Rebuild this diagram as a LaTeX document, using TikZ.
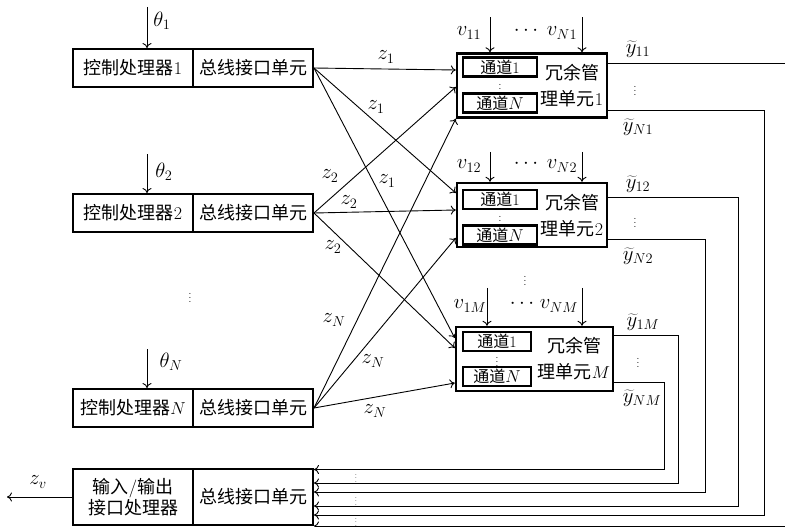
\documentclass[tikz,border=0pt]{standalone}
\usepackage{fontspec}
\newfontfamily\cjk{Noto Sans CJK SC}
\usetikzlibrary{arrows.meta,calc}
\newcommand\myfs{\fontsize{18}{22}\selectfont}
\newcommand\chfs{\fontsize{16}{19}\selectfont}
\newcommand\unitfs{\fontsize{18}{26}\selectfont}
\newcommand\labfs{\fontsize{20}{24}\selectfont}
\begin{document}
\begin{tikzpicture}[x=1pt,y=-1pt,
  part/.style={draw,line width=2pt,minimum width=120pt,minimum height=38pt,inner sep=0pt,font=\myfs},
  unit/.style={draw,line width=2.4pt,minimum width=150pt,minimum height=64pt,inner sep=0pt},
  chan/.style={draw,line width=2.4pt,minimum width=74pt,minimum height=19pt,inner sep=0pt,font=\chfs},
  conn/.style={line width=0.9pt,-{To[length=5pt,width=9pt]}},
  lab/.style={font=\labfs,inner sep=0pt},
  dots/.style={inner sep=0pt,font=\normalsize},
  ]
\useasboundingbox (0,0) rectangle (785,527);

% controllers
\node[part] (c1L) at (133,68) {{\cjk 控制处理器}1};
\node[part] (c1R) at (253,68) {\cjk 总线接口单元};
\node[part] (c2L) at (133,213) {{\cjk 控制处理器}2};
\node[part] (c2R) at (253,213) {\cjk 总线接口单元};
\node[part] (cNL) at (133,408) {{\cjk 控制处理器}$N$};
\node[part] (cNR) at (253,408) {\cjk 总线接口单元};
\node[dots] (cdots) at (190,295) {$\vdots$};

% theta inputs
\draw[conn] ([xshift=14pt,yshift=41pt]c1L.north) -- ([xshift=14pt]c1L.north);
\draw[conn] ([xshift=14pt,yshift=39pt]c2L.north) -- ([xshift=14pt]c2L.north);
\draw[conn] ([xshift=14pt,yshift=39pt]cNL.north) -- ([xshift=14pt]cNL.north);
\node[lab] (th1) at (162,21) {$\theta_1$};
\node[lab] (th2) at (164,172) {$\theta_2$};
\node[lab] (thN) at (171,362) {$\theta_N$};

% I/O unit
\node[part,minimum height=56pt,align=center] (ioL) at (133,497) {{\cjk 输入}/{\cjk 输出}\\[-1pt]{\cjk 接口处理器}};
\node[part,minimum height=56pt] (ioR) at (253,497) {\cjk 总线接口单元};
\coordinate (zv) at (7,497);
\draw[conn] (ioL.west) -- (zv);
\node[lab] (zvl) at (38,482) {$z_v$};

% redundancy management units
\node[unit] (u1) at (532,85.5) {};
\node[unit] (u2) at (532,215) {};
\node[unit,minimum width=157pt] (uM) at (534.5,359) {};

\node[chan] (u1c1) at (500,67) {{\cjk 通道}1};
\node[chan] (u1cN) at (500,103) {{\cjk 通道}$N$};
\node[chan] (u2c1) at (500,199.5) {{\cjk 通道}1};
\node[chan] (u2cN) at (500,235) {{\cjk 通道}$N$};
\node[chan,minimum width=68pt] (uMc1) at (497,341.5) {{\cjk 通道}1};
\node[chan,minimum width=68pt] (uMcN) at (497,376.5) {{\cjk 通道}$N$};
\node[dots] (u1d) at (500,86) {$\vdots$};
\node[dots] (u2d) at (500,218) {$\vdots$};
\node[dots] (uMd) at (497,359) {$\vdots$};

\node[align=center,font=\unitfs,inner sep=0pt] (u1t) at (572,86) {{\cjk 冗余管}\\{\cjk 理单元}1};
\node[align=center,font=\unitfs,inner sep=0pt] (u2t) at (572,216) {{\cjk 冗余管}\\{\cjk 理单元}2};
\node[align=center,font=\unitfs,inner sep=0pt] (uMt) at (574,359) {{\cjk 冗余管}\\{\cjk 理单元}$M$};

% v inputs
\draw[conn] ([xshift=-42pt,yshift=35pt]u1.north) -- ([xshift=-42pt]u1.north);
\draw[conn] ([xshift=50pt,yshift=35pt]u1.north) -- ([xshift=50pt]u1.north);
\draw[conn] ([xshift=-42pt,yshift=30pt]u2.north) -- ([xshift=-42pt]u2.north);
\draw[conn] ([xshift=50pt,yshift=30pt]u2.north) -- ([xshift=50pt]u2.north);
\draw[conn] ([xshift=-47.5pt,yshift=38pt]uM.north) -- ([xshift=-47.5pt]uM.north);
\draw[conn] ([xshift=47.5pt,yshift=38pt]uM.north) -- ([xshift=47.5pt]uM.north);
\node[lab] (v11) at (469,33) {$v_{11}$};
\node[lab] (v1d) at (526,31) {$\cdots$};
\node[lab] (vN1) at (562,33) {$v_{N1}$};
\node[lab] (v12) at (469,166) {$v_{12}$};
\node[lab] (v2d) at (526,164) {$\cdots$};
\node[lab] (vN2) at (562,166) {$v_{N2}$};
\node[lab] (v1M) at (470,306) {$v_{1M}$};
\node[lab] (vMd) at (522,304) {$\cdots$};
\node[lab] (vNM) at (559,306) {$v_{NM}$};
\node[dots] (udots) at (525,278) {$\vdots$};

% bus connections
\draw[conn] (c1R.east) -- ([yshift=15.5pt]u1.west);
\draw[conn] (c1R.east) -- ([yshift=22pt]u2.west);
\draw[conn] (c1R.east) -- ([yshift=21pt]uM.west);
\draw[conn] (c2R.east) -- ([yshift=-1.5pt]u1.west);
\draw[conn] (c2R.east) -- ([yshift=5pt]u2.west);
\draw[conn] (c2R.east) -- ([yshift=11pt]uM.west);
\draw[conn] (cNR.east) -- (u1.south west);
\draw[conn] (cNR.east) -- ([yshift=-23pt]u2.west);
\draw[conn] (cNR.east) -- ([yshift=-24pt]uM.west);
\node[lab] (z1a) at (386,57) {$z_1$};
\node[lab] (z1b) at (376,107) {$z_1$};
\node[lab] (z1c) at (387,181) {$z_1$};
\node[lab] (z2a) at (330,176) {$z_2$};
\node[lab] (z2b) at (349,202) {$z_2$};
\node[lab] (z2c) at (333,247) {$z_2$};
\node[lab] (zNa) at (334,320) {$z_N$};
\node[lab] (zNb) at (373,361) {$z_N$};
\node[lab] (zNc) at (375,411) {$z_N$};

% outputs back to I/O unit
\draw[conn] ([yshift=22.5pt]u1.east) -- ++(180,0) |- ([yshift=-29pt]ioR.east);
\draw[conn] ([yshift=-24.5pt]u1.east) -- ++(156,0) |- ([yshift=-18pt]ioR.east);
\draw[conn] ([yshift=18pt]u2.east) -- ++(130,0) |- ([yshift=-9pt]ioR.east);
\draw[conn] ([yshift=-24pt]u2.east) -- ++(97,0) |- ([yshift=5pt]ioR.east);
\draw[conn] ([yshift=24pt]uM.east) -- ++(64,0) |- ([yshift=14pt]ioR.east);
\draw[conn] ([yshift=-23pt]uM.east) -- ++(50,0) |- ([yshift=27.5pt]ioR.east);
\node[lab] (y11) at (638,49) {$\widetilde{y}_{11}$};
\node[lab] (yN1) at (638,127) {$\widetilde{y}_{N1}$};
\node[lab] (y12) at (638,184) {$\widetilde{y}_{12}$};
\node[lab] (yN2) at (638,256) {$\widetilde{y}_{N2}$};
\node[lab] (y1M) at (643,322) {$\widetilde{y}_{1M}$};
\node[lab] (yNM) at (642,398) {$\widetilde{y}_{NM}$};
\node[dots] (o1d) at (635,88) {$\vdots$};
\node[dots] (o2d) at (635,220) {$\vdots$};
\node[dots] (oMd) at (638,360) {$\vdots$};
\node[dots,scale=0.8] (b1d) at (356,476) {$\vdots$};
\node[dots,scale=0.8] (b2d) at (356,499) {$\vdots$};
\node[dots,scale=0.8] (b3d) at (356,520) {$\vdots$};
\end{tikzpicture}
\end{document}
